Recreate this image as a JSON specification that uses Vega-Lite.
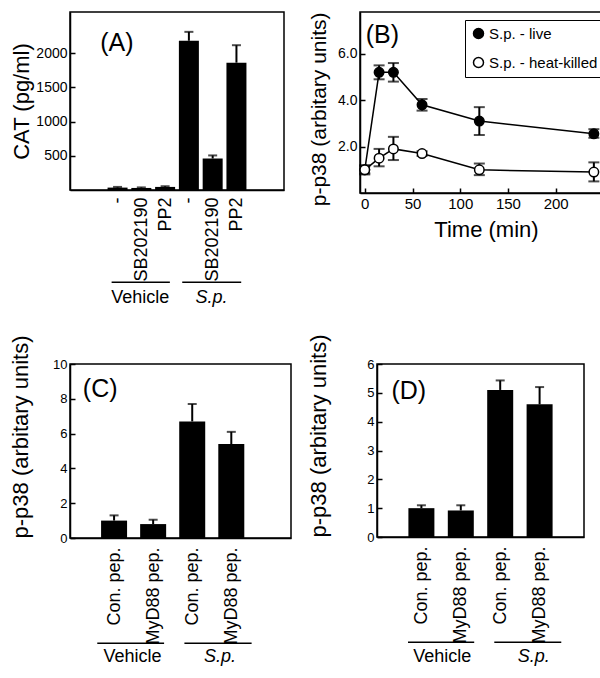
{
  "$schema": "https://vega.github.io/schema/vega-lite/v6.json",
  "background": "white",
  "padding": {"left": 8, "top": 11, "right": 2, "bottom": 2},
  "columns": 2,
  "align": {"row": "each", "column": "none"},
  "spacing": {"row": 25, "column": 15},
  "resolve": {"legend": {"fill": "independent"}, "scale": {"x": "independent", "y": "independent", "fill": "independent"}},
  "concat": [
    {
      "width": 214, "height": 178,
      "layer": [
        {
          "data": {"values": [
            {"pos": 1, "label": "-", "cat": 35, "hi": 45},
            {"pos": 2, "label": "SB202190", "cat": 30, "hi": 38},
            {"pos": 3, "label": "PP2", "cat": 45, "hi": 55},
            {"pos": 4, "label": "-", "cat": 2180, "hi": 2310},
            {"pos": 5, "label": "SB202190", "cat": 460, "hi": 505},
            {"pos": 6, "label": "PP2", "cat": 1860, "hi": 2115}
          ]},
          "layer": [
            {"mark": {"type": "bar", "orient": "vertical", "size": 20, "color": "black"},
             "encoding": {
               "x": {"field": "pos", "type": "quantitative", "scale": {"domain": [0, 7]},
                     "axis": {"values": [1, 2, 3, 4, 5, 6], "tickCount": 20, "labelExpr": "['','-','SB202190','PP2','-','SB202190','PP2'][datum.value]", "labelAngle": -90, "labelFontSize": 18, "labelPadding": 7, "labelOverlap": false, "ticks": false, "title": null}},
               "y": {"field": "cat", "type": "quantitative", "scale": {"domain": [0, 2500]},
                     "axis": {"values": [500, 1000, 1500, 2000], "tickCount": 20, "format": "d", "title": "CAT (pg/ml)", "titleFontSize": 22, "labelFontSize": 14, "labelOverlap": false, "titlePadding": 2}}
             }},
            {"mark": {"type": "rule", "color": "black", "strokeWidth": 2},
             "encoding": {"x": {"field": "pos", "type": "quantitative"}, "y": {"field": "cat", "type": "quantitative"}, "y2": {"field": "hi"}}},
            {"mark": {"type": "tick", "orient": "horizontal", "color": "black", "size": 9, "thickness": 2},
             "encoding": {"x": {"field": "pos", "type": "quantitative"}, "y": {"field": "hi", "type": "quantitative"}}}
          ]
        },
        {
          "data": {"values": [
            {"group": "Vehicle", "start": 0.75, "end": 3.2, "mid": 1.95},
            {"group": "S.p.", "start": 3.72, "end": 6.2, "mid": 4.95}
          ]},
          "layer": [
            {"mark": {"type": "rule", "color": "black", "strokeWidth": 1.5},
             "encoding": {"x": {"field": "start", "type": "quantitative"}, "x2": {"field": "end"}, "y": {"datum": -1347}}},
            {"transform": [{"filter": "datum.group == 'Vehicle'"}],
             "mark": {"type": "text", "fontSize": 18, "font": "Liberation Sans", "baseline": "middle", "color": "black"},
             "encoding": {"x": {"field": "mid", "type": "quantitative"}, "y": {"datum": -1575}, "text": {"field": "group"}}},
            {"transform": [{"filter": "datum.group == 'S.p.'"}],
             "mark": {"type": "text", "fontSize": 18, "font": "Liberation Sans", "fontStyle": "italic", "baseline": "middle", "color": "black"},
             "encoding": {"x": {"field": "mid", "type": "quantitative"}, "y": {"datum": -1575}, "text": {"field": "group"}}}
          ]
        },
        {
          "data": {"values": [{"panel": "(A)"}]},
          "mark": {"type": "text", "fontSize": 25, "font": "Liberation Sans", "align": "left", "baseline": "middle", "color": "black"},
          "encoding": {"x": {"datum": 0.27}, "y": {"datum": 2150}, "text": {"field": "panel"}}
        }
      ]
    },
    {
      "width": 252, "height": 181,
      "data": {"values": [
        {"series": "S.p. - live", "t": 0, "v": 1.0, "lo": 0.8, "hi": 1.2},
        {"series": "S.p. - live", "t": 15, "v": 5.2, "lo": 4.9, "hi": 5.5},
        {"series": "S.p. - live", "t": 30, "v": 5.2, "lo": 4.8, "hi": 5.6},
        {"series": "S.p. - live", "t": 60, "v": 3.8, "lo": 3.55, "hi": 4.05},
        {"series": "S.p. - live", "t": 120, "v": 3.1, "lo": 2.5, "hi": 3.7},
        {"series": "S.p. - live", "t": 240, "v": 2.55, "lo": 2.38, "hi": 2.75},
        {"series": "S.p. - heat-killed", "t": 0, "v": 1.0, "lo": 0.85, "hi": 1.15},
        {"series": "S.p. - heat-killed", "t": 15, "v": 1.5, "lo": 1.15, "hi": 1.9},
        {"series": "S.p. - heat-killed", "t": 30, "v": 1.9, "lo": 1.42, "hi": 2.42},
        {"series": "S.p. - heat-killed", "t": 60, "v": 1.7, "lo": 1.6, "hi": 1.8},
        {"series": "S.p. - heat-killed", "t": 120, "v": 1.0, "lo": 0.77, "hi": 1.27},
        {"series": "S.p. - heat-killed", "t": 240, "v": 0.9, "lo": 0.5, "hi": 1.32}
      ]},
      "layer": [
        {"mark": {"type": "rule", "color": "black", "strokeWidth": 2},
         "encoding": {
           "x": {"field": "t", "type": "quantitative", "scale": {"domain": [-5, 259], "nice": false},
                 "axis": {"values": [0, 50, 100, 150, 200], "tickCount": 20, "title": "Time (min)", "titleFontSize": 22, "labelFontSize": 15, "labelOverlap": false, "titlePadding": 8}},
           "y": {"field": "lo", "type": "quantitative", "scale": {"domain": [0, 7.8], "nice": false},
                 "axis": {"values": [2, 4, 6], "tickCount": 20, "title": "p-p38 (arbitary units)", "titleFontSize": 21, "labelFontSize": 14, "labelOverlap": false, "titlePadding": 8, "titleAnchor": "end"}},
           "y2": {"field": "hi"}
         }},
        {"mark": {"type": "tick", "orient": "horizontal", "color": "black", "size": 11, "thickness": 2},
         "encoding": {"x": {"field": "t", "type": "quantitative"}, "y": {"field": "lo", "type": "quantitative"}}},
        {"mark": {"type": "tick", "orient": "horizontal", "color": "black", "size": 11, "thickness": 2},
         "encoding": {"x": {"field": "t", "type": "quantitative"}, "y": {"field": "hi", "type": "quantitative"}}},
        {"mark": {"type": "line", "color": "black", "strokeWidth": 1.5},
         "encoding": {"x": {"field": "t", "type": "quantitative"}, "y": {"field": "v", "type": "quantitative"}, "detail": {"field": "series"}}},
        {"mark": {"type": "point", "shape": "circle", "filled": true, "size": 90, "stroke": "black", "strokeWidth": 1.5, "opacity": 1},
         "encoding": {
           "x": {"field": "t", "type": "quantitative"},
           "y": {"field": "v", "type": "quantitative"},
           "fill": {"field": "series", "type": "nominal",
                    "scale": {"domain": ["S.p. - live", "S.p. - heat-killed"], "range": ["black", "white"]},
                    "legend": {"orient": "top-right", "title": null, "offset": 8, "strokeColor": "black", "fillColor": "white", "padding": 6, "rowPadding": 12, "labelFontSize": 15, "labelFont": "Liberation Sans", "labelColor": "black", "labelOffset": 3, "symbolType": "circle", "symbolSize": 100, "symbolStrokeColor": "black", "symbolStrokeWidth": 1.5}}
         }},
        {
          "data": {"values": [{"panel": "(B)"}]},
          "mark": {"type": "text", "fontSize": 25, "font": "Liberation Sans", "align": "left", "baseline": "middle", "color": "black"},
          "encoding": {"x": {"datum": 1}, "y": {"datum": 6.8}, "text": {"field": "panel"}}
        }
      ]
    },
    {
      "width": 221, "height": 174,
      "layer": [
        {
          "data": {"values": [
            {"pos": 1, "label": "Con. pep.", "v": 1.0, "hi": 1.3},
            {"pos": 2, "label": "MyD88 pep.", "v": 0.8, "hi": 1.05},
            {"pos": 3, "label": "Con. pep.", "v": 6.7, "hi": 7.7},
            {"pos": 4, "label": "MyD88 pep.", "v": 5.4, "hi": 6.1}
          ]},
          "layer": [
            {"mark": {"type": "bar", "orient": "vertical", "size": 26, "color": "black"},
             "encoding": {
               "x": {"field": "pos", "type": "quantitative", "scale": {"domain": [0, 5.4], "nice": false},
                     "axis": {"values": [1, 2, 3, 4], "tickCount": 20, "labelExpr": "['','Con. pep.','MyD88 pep.','Con. pep.','MyD88 pep.'][datum.value]", "labelAngle": -90, "labelFontSize": 18, "labelPadding": 9, "labelOverlap": false, "ticks": false, "title": null}},
               "y": {"field": "v", "type": "quantitative", "scale": {"domain": [0, 10]},
                     "axis": {"values": [0, 2, 4, 6, 8, 10], "tickCount": 20, "format": "d", "title": "p-p38 (arbitary units)", "titleFontSize": 22, "labelFontSize": 13, "labelOverlap": false, "titlePadding": 20, "titleAnchor": "start"}}
             }},
            {"mark": {"type": "rule", "color": "black", "strokeWidth": 2},
             "encoding": {"x": {"field": "pos", "type": "quantitative"}, "y": {"field": "v", "type": "quantitative"}, "y2": {"field": "hi"}}},
            {"mark": {"type": "tick", "orient": "horizontal", "color": "black", "size": 9, "thickness": 2},
             "encoding": {"x": {"field": "pos", "type": "quantitative"}, "y": {"field": "hi", "type": "quantitative"}}}
          ]
        },
        {
          "data": {"values": [
            {"group": "Vehicle", "start": 0.57, "end": 2.28, "mid": 1.47},
            {"group": "S.p.", "start": 2.8, "end": 4.52, "mid": 3.71}
          ]},
          "layer": [
            {"mark": {"type": "rule", "color": "black", "strokeWidth": 1.5},
             "encoding": {"x": {"field": "start", "type": "quantitative"}, "x2": {"field": "end"}, "y": {"datum": -6.05}}},
            {"transform": [{"filter": "datum.group == 'Vehicle'"}],
             "mark": {"type": "text", "fontSize": 18, "font": "Liberation Sans", "baseline": "middle", "color": "black"},
             "encoding": {"x": {"field": "mid", "type": "quantitative"}, "y": {"datum": -6.85}, "text": {"field": "group"}}},
            {"transform": [{"filter": "datum.group == 'S.p.'"}],
             "mark": {"type": "text", "fontSize": 18, "font": "Liberation Sans", "fontStyle": "italic", "baseline": "middle", "color": "black"},
             "encoding": {"x": {"field": "mid", "type": "quantitative"}, "y": {"datum": -6.85}, "text": {"field": "group"}}}
          ]
        },
        {
          "data": {"values": [{"panel": "(C)"}]},
          "mark": {"type": "text", "fontSize": 25, "font": "Liberation Sans", "align": "left", "baseline": "middle", "color": "black"},
          "encoding": {"x": {"datum": 0.2}, "y": {"datum": 8.56}, "text": {"field": "panel"}}
        }
      ]
    },
    {
      "width": 207, "height": 173,
      "layer": [
        {
          "data": {"values": [
            {"pos": 1, "label": "Con. pep.", "v": 1.0, "hi": 1.1},
            {"pos": 2, "label": "MyD88 pep.", "v": 0.92, "hi": 1.1},
            {"pos": 3, "label": "Con. pep.", "v": 5.1, "hi": 5.43},
            {"pos": 4, "label": "MyD88 pep.", "v": 4.6, "hi": 5.2}
          ]},
          "layer": [
            {"mark": {"type": "bar", "orient": "vertical", "size": 26, "color": "black"},
             "encoding": {
               "x": {"field": "pos", "type": "quantitative", "scale": {"domain": [0, 5], "nice": false},
                     "axis": {"values": [1, 2, 3, 4], "tickCount": 20, "labelExpr": "['','Con. pep.','MyD88 pep.','Con. pep.','MyD88 pep.'][datum.value]", "labelAngle": -90, "labelFontSize": 18, "labelPadding": 9, "labelOverlap": false, "ticks": false, "title": null}},
               "y": {"field": "v", "type": "quantitative", "scale": {"domain": [0, 6]},
                     "axis": {"values": [0, 1, 2, 3, 4, 5, 6], "tickCount": 20, "format": "d", "title": "p-p38 (arbitary units)", "titleFontSize": 22, "labelFontSize": 13, "labelOverlap": false, "titlePadding": 36, "titleAnchor": "start"}}
             }},
            {"mark": {"type": "rule", "color": "black", "strokeWidth": 2},
             "encoding": {"x": {"field": "pos", "type": "quantitative"}, "y": {"field": "v", "type": "quantitative"}, "y2": {"field": "hi"}}},
            {"mark": {"type": "tick", "orient": "horizontal", "color": "black", "size": 9, "thickness": 2},
             "encoding": {"x": {"field": "pos", "type": "quantitative"}, "y": {"field": "hi", "type": "quantitative"}}}
          ]
        },
        {
          "data": {"values": [
            {"group": "Vehicle", "start": 0.66, "end": 2.34, "mid": 1.53},
            {"group": "S.p.", "start": 2.85, "end": 4.55, "mid": 3.85}
          ]},
          "layer": [
            {"mark": {"type": "rule", "color": "black", "strokeWidth": 1.5},
             "encoding": {"x": {"field": "start", "type": "quantitative"}, "x2": {"field": "end"}, "y": {"datum": -3.65}}},
            {"transform": [{"filter": "datum.group == 'Vehicle'"}],
             "mark": {"type": "text", "fontSize": 18, "font": "Liberation Sans", "baseline": "middle", "color": "black"},
             "encoding": {"x": {"field": "mid", "type": "quantitative"}, "y": {"datum": -4.17}, "text": {"field": "group"}}},
            {"transform": [{"filter": "datum.group == 'S.p.'"}],
             "mark": {"type": "text", "fontSize": 18, "font": "Liberation Sans", "fontStyle": "italic", "baseline": "middle", "color": "black"},
             "encoding": {"x": {"field": "mid", "type": "quantitative"}, "y": {"datum": -4.17}, "text": {"field": "group"}}}
          ]
        },
        {
          "data": {"values": [{"panel": "(D)"}]},
          "mark": {"type": "text", "fontSize": 25, "font": "Liberation Sans", "align": "left", "baseline": "middle", "color": "black"},
          "encoding": {"x": {"datum": 0.24}, "y": {"datum": 5.05}, "text": {"field": "panel"}}
        }
      ]
    }
  ],
  "config": {
    "font": "Liberation Sans",
    "view": {"stroke": "black", "strokeWidth": 1.5},
    "axis": {
      "grid": false,
      "labelOverlap": false,
      "domainColor": "black", "domainWidth": 1.5,
      "tickColor": "black", "tickWidth": 1.5, "tickSize": -5,
      "labelColor": "black", "labelFont": "Liberation Sans", "labelPadding": 8,
      "titleColor": "black", "titleFont": "Liberation Sans", "titleFontWeight": "normal"
    }
  }
}
